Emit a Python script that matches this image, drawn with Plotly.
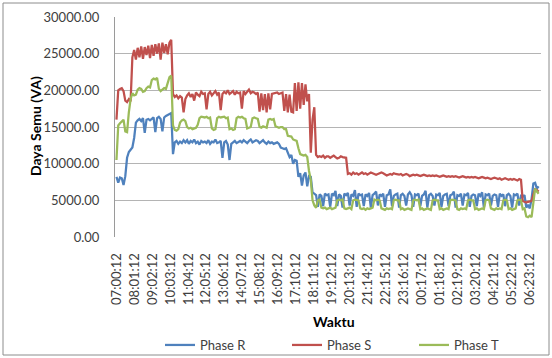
import plotly.graph_objects as go

# Sampling: one reading every 6 minutes starting 07:00:12
STEP_MIN = 6

tick_labels = ["07:00:12", "08:01:12", "09:02:12", "10:03:12", "11:04:12", "12:05:12",
               "13:06:12", "14:07:12", "15:08:12", "16:09:12", "17:10:12", "18:11:12",
               "19:12:12", "20:13:12", "21:14:12", "22:15:12", "23:16:12", "00:17:12",
               "01:18:12", "02:19:12", "03:20:12", "04:21:12", "05:22:12", "06:23:12"]
tick_minutes = [0, 61, 122, 183, 244, 305, 366, 427, 488, 549, 610, 671,
                732, 793, 854, 915, 976, 1037, 1098, 1159, 1220, 1281, 1342, 1403]

phase_r = [
    8200, 7400, 8100, 8000, 7100, 8300, 10800, 11600, 11900, 12200,
    13500, 15600, 15900, 16100, 15800, 16200, 14200, 16000, 16100, 15900,
    16100, 16300, 14300, 16200, 16400, 16100, 14400, 16300, 16500, 16600,
    16700, 16900, 11300, 12900, 13100, 12700, 13000, 12800, 13200, 12900,
    13200, 12700, 13100, 12900, 13300, 12800, 13000, 12600, 13100, 12900,
    13000, 12800, 13200, 12700, 13000, 12900, 13300, 12800, 12900, 13100,
    10800, 12900, 13100, 12600, 10500, 12700, 12900, 13100, 12800, 13000,
    13100, 12900, 13200, 13000, 12800, 13100, 13300, 12900, 13000, 13200,
    13100, 12800, 13000, 13200, 12900, 12700, 13000, 12800, 12900, 12700,
    12800, 12900, 12700, 12200, 12100, 12000, 12100, 11400, 10900, 11200,
    10000, 10500, 10400, 8200, 8700, 7000, 8400, 8800, 6900, 8300,
    8200, 6100, 5900, 5700, 4100, 5800, 5600, 4200, 5900, 5700,
    5800, 4100, 5900, 5700, 6300, 4200, 5800, 5600, 4000, 5900,
    5700, 6000, 4300, 5800, 5600, 6400, 4100, 5900, 5700, 5800,
    4200, 5800, 5600, 6000, 4000, 5700, 5900, 6200, 4300, 5800,
    5600, 5900, 4100, 5700, 5800, 6500, 4200, 5600, 5800, 5900,
    4000, 5700, 5900, 5600, 4300, 5800, 6100, 5700, 4100, 5800,
    5700, 5900, 4200, 5600, 5800, 6300, 4000, 5700, 5900, 5600,
    4300, 5800, 5700, 6000, 4100, 5600, 5800, 5900, 4200, 5700,
    5800, 6200, 4000, 5700, 5600, 5900, 4300, 5800, 5700, 6000,
    4100, 5600, 5800, 5700, 4200, 5900, 5600, 6100, 4000, 5800,
    5700, 5900, 4300, 5600, 5800, 5700, 4100, 5900, 5600, 5800,
    4200, 5700, 5900, 5600, 4000, 5800, 5700, 5900, 4300, 5600,
    5500, 5700, 4000, 4400, 3900, 5200, 7300, 7400, 6600, 6900,
]

phase_s = [
    16000, 20000, 20200, 20300, 19900, 18600, 18400, 18800, 18500, 24500,
    25500, 24200, 25800, 24500, 26000, 24300, 25900, 24800, 26100, 24400,
    26200, 24700, 26300, 25000, 26400, 24200, 26500, 25100, 26300, 24900,
    26500, 26900, 19500, 19100, 19300, 18900, 19200, 19000, 17000, 18800,
    19300, 19600, 19100, 19500, 18600, 19700, 19400, 19200, 19800, 19500,
    19600, 17400, 19500, 19800, 19300, 19600, 19900, 19400, 19700, 17300,
    19500, 19800, 19600, 20000, 19500, 19700, 19900, 19400, 19800, 19600,
    19700, 17500, 19900, 19500, 19800, 20100, 19600, 19800, 19700, 19500,
    19700, 17100, 19600, 17300, 19500, 17000, 19600, 17400, 19500, 19600,
    19600, 19700, 19500, 19600, 19700, 17200, 19500, 17000, 19400, 17100,
    17000, 21000, 17200, 21100, 17500, 21000, 18000, 20800, 18500, 19500,
    11500, 16000, 17700, 11200, 10900, 11000, 10900, 11100, 10800, 11000,
    11000, 10800, 10900, 11100, 10900, 10700, 10800, 11000, 10900, 10800,
    10800, 8600, 8700, 8500, 8800, 8600, 8700, 8500, 8600, 8800,
    8600, 8700, 8500, 8600, 8800, 8700, 8600, 8500, 8600, 8700,
    8800, 8700, 8600, 8400, 8500, 8600, 8500, 8700, 8600, 8500,
    8500, 8600, 8400, 8500, 8600, 8500, 8300, 8400, 8500, 8400,
    8500, 8400, 8300, 8400, 8500, 8400, 8300, 8400, 8300, 8400,
    8300, 8400, 8300, 8200, 8300, 8400, 8300, 8200, 8300, 8200,
    8300, 8200, 8300, 8200, 8100, 8200, 8300, 8200, 8100, 8200,
    8100, 8200, 8100, 8200, 8100, 8000, 8100, 8200, 8100, 8000,
    8100, 8000, 7900, 8000, 8100, 8000, 7900, 8000, 7800, 7900,
    8000, 7900, 7800, 7900, 7800, 7900, 7800, 7700, 7900, 7800,
    4900, 4800, 4700, 4800, 4800, 4900, 5800, 6500, 6400, 6200,
]

phase_t = [
    10500, 15200, 15500, 15700, 16000, 14400, 14300, 17000, 18800, 19600,
    19300, 19400, 20100, 20300, 20200, 19800, 19900, 20300, 20500, 20400,
    21400, 21600, 21500, 21700, 20200, 19900, 20100, 20300, 20200, 21000,
    21800, 22000, 15200, 14600, 14500, 14700, 15600, 15900, 16000, 15800,
    15000, 14800, 14900, 14700, 14800, 14900, 15300, 16200, 16400, 16300,
    16300, 16400, 16200, 16300, 14800, 14600, 14700, 16200, 16400, 16300,
    16300, 16400, 16200, 16300, 14700, 14800, 14600, 14700, 16200, 16400,
    16300, 16400, 16200, 16100, 14800, 14900, 15000, 16200, 16300, 16200,
    16100, 15000, 14900, 15100, 15000, 14900, 16000, 16100, 16000, 16100,
    15100, 15000, 14900, 15000, 15000, 14700, 14700, 13800, 13700, 13700,
    13300, 13200, 13100, 12100, 11300, 11200, 11100, 11200, 10900, 9000,
    7800, 5000, 4300, 4000, 5000, 5100, 4000, 3900, 4000, 3800,
    3900, 4000, 3800, 3900, 4000, 5000, 5100, 5000, 5100, 3900,
    3800, 3900, 4000, 3800, 5000, 5100, 5000, 5000, 3900, 3800,
    3900, 3700, 3900, 3800, 3900, 4000, 5100, 5000, 5100, 5000,
    3900, 3800, 3700, 3900, 3800, 3900, 3800, 5000, 5100, 5000,
    5000, 3800, 3900, 3700, 3800, 3900, 3800, 3700, 5000, 5100,
    5000, 5100, 3800, 3900, 3700, 3800, 3900, 3800, 3700, 5000,
    5100, 5000, 5000, 3800, 3900, 3700, 3800, 3900, 3800, 5000,
    5100, 5000, 5000, 3800, 3700, 3900, 3800, 3900, 3800, 5000,
    5100, 5000, 5000, 3800, 3900, 3700, 3800, 3900, 3800, 5000,
    5100, 5000, 3900, 3800, 3700, 3900, 3800, 3900, 3800, 5000,
    5100, 5000, 3800, 3900, 3700, 3800, 3900, 5000, 5100, 5000,
    3800, 3900, 2800, 2700, 2900, 2700, 4500, 6600, 6200, 5900,
]

series_names = ["Phase R", "Phase S", "Phase T"]
series_colors = ["#4f81bd", "#c0504d", "#9bbb59"]

minutes = [i * STEP_MIN for i in range(len(phase_r))]

FONT = "Lato, 'Liberation Sans', sans-serif"
W, H = 552, 358

fig = go.Figure()
for name, vals, col in zip(series_names, [phase_r, phase_s, phase_t], series_colors):
    fig.add_trace(go.Scatter(x=minutes, y=vals, mode="lines", name=name,
                             line=dict(color=col, width=2.25)))

fig.update_layout(
    width=W, height=H,
    margin=dict(l=115, r=11, t=17, b=121, autoexpand=False),
    paper_bgcolor="white", plot_bgcolor="white",
    font=dict(family=FONT, size=13, color="#404040"),
    showlegend=True,
    legend=dict(orientation="h", xref="container", yref="container",
                x=160 / W, xanchor="left", y=(H - 345) / H, yanchor="middle",
                entrywidth=82, entrywidthmode="pixels",
                font=dict(size=13, color="#404040"), bgcolor="rgba(0,0,0,0)"),
    xaxis=dict(range=[-5, 1442], tickmode="array", tickvals=tick_minutes, ticktext=tick_labels,
               tickangle=-90, showgrid=False, zeroline=False, showline=False,
               automargin=False,
               ticks="outside", ticklen=10, tickcolor="rgba(0,0,0,0)",
               tickfont=dict(size=13, color="#404040")),
    yaxis=dict(range=[0, 30000], dtick=5000, tickformat=".2f", showgrid=True,
               gridcolor="#b4b4b4", gridwidth=1, zeroline=False, showline=True,
               linecolor="#9a9a9a", linewidth=1, automargin=False,
               ticks="outside", ticklen=12, tickcolor="rgba(0,0,0,0)",
               tickfont=dict(size=13, color="#404040")),
    annotations=[
        dict(text="<b>Daya Semu (VA)</b>", xref="paper", yref="paper",
             x=(35 - 115) / 426, y=(237 - 126) / 220, textangle=-90,
             showarrow=False, xanchor="center", yanchor="middle",
             font=dict(size=14, color="#000000", family=FONT)),
        dict(text="<b>Waktu</b>", xref="paper", yref="paper",
             x=(334 - 115) / 426, y=(237 - 321) / 220,
             showarrow=False, xanchor="center", yanchor="middle",
             font=dict(size=14, color="#000000", family=FONT)),
    ],
    shapes=[
        dict(type="rect", xref="paper", yref="paper",
             x0=(3 - 115) / 426, x1=(549 - 115) / 426,
             y0=(237 - 355) / 220, y1=(237 - 3) / 220,
             line=dict(color="#8c8c8c", width=1), fillcolor="rgba(0,0,0,0)", layer="below"),
    ],
)

fig.write_html("out.html", config={"displayModeBar": False},
               post_script="document.body.style.margin='0';document.body.style.overflow='hidden';")
